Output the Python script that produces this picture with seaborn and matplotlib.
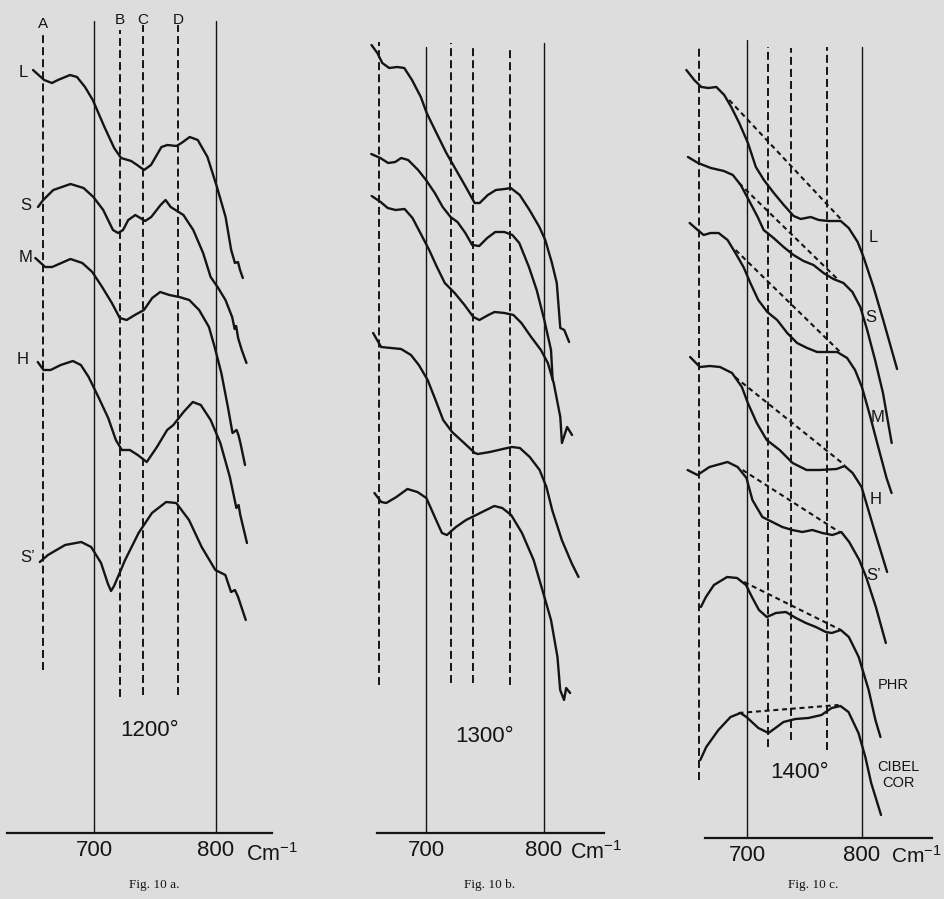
import numpy as np
import pandas as pd
import matplotlib
matplotlib.use("Agg")
import matplotlib.pyplot as plt
import seaborn as sns

PAPER = "#dddddd"
INK = "#141414"

# Fig. 10 a (1200 deg) : wavenumber (cm-1) / relative height of each trace
A_L_WN = [649.8, 659.0, 665.4, 670.3, 680.3, 686.0, 692.6, 699.0, 708.6, 716.6, 722.3, 730.6, 735.5, 741.2, 746.9,
          755.5, 760.4, 767.9, 772.0, 778.8, 785.4, 793.4, 801.2, 808.3, 812.9, 816.0, 818.5, 820.2, 822.5]
A_L_H = [763, 753, 750, 753, 758, 756, 746, 733, 706, 685, 675, 672, 668, 663, 668,
         686, 688, 687, 690, 696, 693, 676, 646, 616, 583, 570, 571, 563, 555]
A_S_WN = [653.9, 658.2, 666.5, 680.7, 691.4, 699.5, 707.6, 715.6, 719.8, 723.9, 728.2, 734.0, 738.1, 742.1, 747.1,
          754.8, 758.9, 763.1, 773.6, 781.7, 789.8, 796.0, 801.7, 808.2, 813.7, 815.8, 817.0, 818.6, 821.6, 825.5]
A_S_H = [626, 633, 643, 649, 645, 636, 623, 603, 600, 603, 613, 618, 615, 612, 616,
         628, 633, 626, 618, 603, 580, 556, 546, 533, 516, 504, 507, 495, 483, 470]
A_M_WN = [651.7, 659.8, 665.6, 680.6, 690.4, 698.6, 706.7, 714.7, 721.2, 726.9, 733.6, 741.1, 747.9, 754.5, 762.0,
          770.2, 778.4, 786.5, 794.6, 799.3, 804.8, 810.2, 814.0, 817.3, 818.9, 820.5, 824.3]
A_M_H = [575, 566, 566, 574, 570, 561, 546, 530, 515, 513, 518, 523, 535, 541, 538,
         536, 533, 523, 506, 486, 460, 426, 400, 403, 398, 390, 368]
A_H_WN = [653.7, 658.5, 664.3, 672.6, 682.6, 689.2, 695.6, 703.6, 711.7, 718.0, 722.9, 729.5, 736.0, 743.4, 751.8,
          760.2, 765.3, 773.7, 781.3, 787.9, 796.0, 804.0, 811.8, 817.2, 819.0, 820.4, 825.9]
A_H_H = [471, 463, 463, 468, 472, 468, 456, 436, 415, 393, 383, 383, 378, 371, 386,
         403, 408, 421, 431, 428, 413, 390, 356, 325, 328, 318, 290]
A_SP_WN = [655.4, 662.1, 676.2, 689.5, 697.7, 705.8, 711.5, 714.0, 716.5, 725.6, 736.7, 747.7, 759.4, 767.7, 778.2,
           788.6, 799.9, 808.1, 812.8, 816.0, 818.6, 824.9]
A_SP_H = [271, 278, 288, 291, 286, 270, 249, 242, 247, 273, 300, 320, 331, 330, 313,
          286, 263, 258, 241, 243, 236, 213]
A_NAMES = ["L", "S", "M", "H", "S\u2019"]
A_LABEL_WN = [641.6, 644.0, 643.4, 641.3, 645.5]
A_LABEL_H = [761, 628, 576, 473, 276]
A_GUIDE_NAMES = ["A", "B", "C", "D"]
A_GUIDE_WN = [658, 721, 740, 769]
A_GUIDE_TOP = [801, 803, 808, 808]
A_GUIDE_BOTTOM = [163, 136, 138, 138]
A_SOLID_WN = [700, 800]
A_SOLID_TOP = [812, 812]

# Fig. 10 b (1300 deg)
B_C1_WN = [653.2, 658.2, 662.4, 668.3, 675.1, 681.1, 687.7, 695.2, 700.2, 708.5, 716.9, 725.2, 733.5, 741.0,
           745.3, 752.2, 759.1, 766.7, 771.8, 779.4, 787.7, 796.1, 801.1, 806.8, 810.9, 813.9, 817.3, 821.4]
B_C1_H = [788, 780, 770, 765, 766, 765, 753, 736, 720, 700, 680, 663, 646, 630,
          630, 638, 643, 644, 645, 638, 623, 606, 593, 570, 550, 505, 503, 491]
B_C2_WN = [653.0, 660.7, 667.4, 673.4, 678.5, 684.4, 692.9, 699.6, 707.1, 713.8, 720.5, 726.4, 733.1, 738.9,
           744.9, 751.7, 758.6, 766.3, 773.1, 779.0, 787.2, 793.8, 800.3, 806.0, 807.4]
B_C2_H = [679, 675, 670, 671, 675, 673, 663, 653, 640, 626, 616, 611, 600, 588,
          587, 595, 601, 601, 598, 590, 566, 543, 513, 483, 453]
B_C3_WN = [653.4, 661.0, 667.0, 673.7, 681.4, 688.1, 694.8, 702.3, 708.9, 715.6, 724.0, 732.4, 739.9, 745.0,
           752.7, 757.9, 766.4, 774.0, 780.8, 789.1, 797.4, 803.3, 808.3, 813.9, 815.3, 819.7, 823.9]
B_C3_H = [637, 631, 625, 623, 624, 615, 600, 583, 566, 550, 540, 528, 516, 513,
          518, 521, 520, 518, 510, 496, 483, 470, 450, 416, 390, 406, 398]
B_C4_WN = [654.6, 661.4, 669.9, 678.4, 686.8, 693.5, 701.0, 707.7, 714.2, 721.8, 731.1, 741.2, 743.7, 754.0,
           765.0, 772.7, 779.5, 787.9, 796.3, 802.1, 807.0, 815.2, 823.5, 829.4]
B_C4_H = [500, 486, 485, 484, 478, 468, 453, 433, 413, 401, 391, 380, 379, 381,
          384, 386, 385, 376, 363, 346, 323, 293, 270, 256]
B_C5_WN = [655.7, 661.5, 665.8, 674.4, 683.8, 692.3, 699.9, 708.2, 713.2, 717.4, 725.1, 733.7, 742.3, 750.8,
           757.7, 764.5, 772.1, 781.3, 791.2, 799.4, 806.0, 811.5, 813.8, 817.1, 818.9, 822.3]
B_C5_H = [340, 331, 330, 336, 344, 341, 335, 313, 300, 298, 306, 313, 318, 323,
          327, 325, 318, 300, 273, 240, 213, 176, 143, 133, 145, 140]
B_GUIDE_WN = [660, 721, 740, 771]
B_GUIDE_TOP = [791, 790, 786, 786]
B_GUIDE_BOTTOM = [148, 150, 150, 148]
B_SOLID_WN = [700, 800]
B_SOLID_TOP = [786, 790]

# Fig. 10 c (1400 deg)
C_L_WN = [646.6, 653.5, 659.7, 665.8, 672.8, 679.7, 685.8, 692.8, 700.4, 707.3, 714.3, 723.0, 731.7, 740.3,
          746.5, 755.2, 762.2, 770.9, 781.4, 788.4, 796.2, 801.3, 810.0, 818.5, 830.6]
C_L_H = [768, 758, 751, 750, 751, 743, 731, 715, 695, 671, 658, 645, 633, 622,
         619, 621, 618, 617, 617, 610, 596, 581, 551, 518, 469]
C_S_WN = [648.0, 656.8, 668.0, 679.4, 687.2, 694.1, 701.1, 708.9, 714.1, 722.8, 731.5, 740.2, 748.9, 757.6,
          766.4, 775.0, 783.8, 791.6, 798.5, 804.5, 811.4, 818.3, 825.9]
C_S_H = [681, 675, 670, 667, 663, 653, 638, 621, 608, 600, 591, 583, 577, 573,
         565, 559, 555, 546, 531, 508, 478, 445, 395]
C_M_WN = [649.5, 656.5, 661.7, 667.8, 674.8, 682.6, 689.5, 696.5, 702.5, 709.4, 717.3, 725.9, 734.7, 743.3,
          752.1, 760.8, 769.5, 778.3, 787.0, 793.9, 799.9, 806.8, 813.7, 821.4, 825.8]
C_M_H = [615, 608, 603, 605, 605, 598, 585, 571, 555, 538, 526, 518, 505, 495,
         490, 486, 486, 486, 480, 468, 451, 423, 393, 360, 345]
C_H_WN = [649.9, 658.5, 667.2, 676.0, 686.5, 695.1, 700.3, 708.1, 716.8, 728.1, 739.4, 751.6, 763.0, 777.8,
          784.8, 791.8, 799.6, 802.2, 810.7, 821.9]
C_H_H = [481, 471, 472, 471, 465, 451, 435, 415, 398, 388, 375, 368, 368, 369,
         372, 365, 351, 341, 308, 266]
C_SP_WN = [647.7, 656.3, 666.8, 682.6, 691.4, 699.1, 704.3, 713.0, 721.7, 730.4, 739.1, 747.9, 756.6, 765.3,
           774.1, 781.9, 788.8, 797.6, 803.6, 812.1, 820.8]
C_SP_H = [368, 363, 371, 376, 371, 360, 338, 321, 316, 311, 308, 306, 308, 305,
          303, 306, 296, 278, 261, 231, 195]
C_PHR_WN = [659.3, 663.7, 670.7, 682.2, 690.9, 698.7, 703.9, 710.0, 716.9, 724.8, 733.5, 742.3, 751.0, 759.7,
            768.4, 773.6, 781.5, 788.5, 797.1, 805.8, 811.7, 816.1]
C_PHR_H = [231, 241, 253, 261, 260, 253, 241, 228, 221, 225, 226, 220, 215, 211,
           206, 205, 208, 201, 181, 148, 118, 101]
C_COR_WN = [658.8, 664.0, 674.6, 685.2, 693.9, 699.1, 709.5, 718.3, 724.4, 731.4, 741.8, 753.2, 764.6, 773.4,
            781.2, 788.2, 796.9, 802.9, 808.0, 816.6]
C_COR_H = [78, 91, 108, 121, 125, 121, 110, 105, 110, 116, 119, 120, 123, 130,
           132, 126, 105, 81, 55, 23]
C_NAMES = ["L", "S", "M", "H", "S\u2019", "PHR", "CIBEL\nCOR"]
C_LABEL_WN = [810.0, 807.4, 813.5, 811.8, 810.0, 827.5, 831.9]
C_LABEL_H = [600, 520, 421, 338, 262, 153, 63]
# baselines drawn between the two shoulders of each trace
C_TAN_WN0 = [684.0, 692.5, 689.6, 689.1, 695.7, 697.0, 692.1]
C_TAN_H0 = [738, 655, 588, 461, 368, 256, 125]
C_TAN_WN1 = [783.1, 778.5, 780.9, 784.8, 780.2, 781.5, 779.5]
C_TAN_H1 = [617, 559, 486, 373, 306, 208, 133]
C_GUIDE_WN = [658, 718, 738, 769]
C_GUIDE_TOP = [793, 791, 790, 791]
C_GUIDE_BOTTOM = [58, 91, 98, 88]
C_SOLID_WN = [700, 800]
C_SOLID_TOP = [798, 791]


def curves_frame(curves):
    parts = [pd.DataFrame({"wn": wn, "h": h, "curve": name}) for name, wn, h in curves]
    return pd.concat(parts, ignore_index=True)


def draw_panel(ax, curves, guide_wn, guide_top, guide_bottom, solid_wn, solid_top, xlim, ymax):
    df = curves_frame(curves)
    sns.lineplot(data=df, x="wn", y="h", units="curve", estimator=None, sort=False,
                 color=INK, lw=1.7, ax=ax, legend=False)
    for wn, top in zip(solid_wn, solid_top):
        ax.plot([wn, wn], [0, top], color=INK, lw=1.0)
    for wn, top, bot in zip(guide_wn, guide_top, guide_bottom):
        ax.plot([wn, wn], [bot, top], color=INK, lw=1.4, ls=(0, (4.1, 2.1)))
    for line in ax.lines:
        line.set_clip_on(False)

    ax.set_xlim(*xlim)
    ax.set_ylim(0, ymax)
    ax.set_xticks([700, 800])
    ax.set_yticks([])
    ax.set_xlabel("")
    ax.set_ylabel("")
    for side in ["left", "right", "top"]:
        ax.spines[side].set_visible(False)
    ax.spines["bottom"].set_linewidth(1.6)
    ax.spines["bottom"].set_color(INK)
    ax.tick_params(axis="x", length=0, pad=5, labelsize=16, labelcolor=INK)
    ax.patch.set_alpha(0)


sns.set_theme(style="white")
plt.rcParams["font.family"] = ["Liberation Sans Narrow", "Liberation Sans", "DejaVu Sans"]
plt.rcParams["mathtext.default"] = "regular"

fig = plt.figure(figsize=(9.44, 8.99), dpi=100, facecolor=PAPER)
ax_a = fig.add_axes([7 / 944, 66 / 899, 265 / 944, 833 / 899])
ax_b = fig.add_axes([377 / 944, 66 / 899, 227 / 944, 833 / 899])
ax_c = fig.add_axes([705 / 944, 61 / 899, 227 / 944, 838 / 899])

# panel a
draw_panel(ax_a, [("L", A_L_WN, A_L_H), ("S", A_S_WN, A_S_H), ("M", A_M_WN, A_M_H),
                  ("H", A_H_WN, A_H_H), ("Sp", A_SP_WN, A_SP_H)],
           A_GUIDE_WN, A_GUIDE_TOP, A_GUIDE_BOTTOM, A_SOLID_WN, A_SOLID_TOP, (628.4, 846.5), 833)
for name, wn, h in zip(A_NAMES, A_LABEL_WN, A_LABEL_H):
    ax_a.text(wn, h, name, ha="center", va="center", fontsize=12, color=INK,
              family=["Liberation Sans", "DejaVu Sans"])
for name, wn in zip(A_GUIDE_NAMES, A_GUIDE_WN):
    ax_a.text(wn, 813 if name != "A" else 809, name, ha="center", va="center", fontsize=11,
              color=INK, family=["Liberation Sans", "DejaVu Sans"])
ax_a.text(746, 103, "1200°", ha="center", va="center", fontsize=16, color=INK)
ax_a.text(846.5, -22, "Cm$^{-1}$", ha="center", va="center", fontsize=15.5, color=INK, clip_on=False)

# panel b
draw_panel(ax_b, [("1", B_C1_WN, B_C1_H), ("2", B_C2_WN, B_C2_H), ("3", B_C3_WN, B_C3_H),
                  ("4", B_C4_WN, B_C4_H), ("5", B_C5_WN, B_C5_H)],
           B_GUIDE_WN, B_GUIDE_TOP, B_GUIDE_BOTTOM, B_SOLID_WN, B_SOLID_TOP, (657.9, 851.1), 833)
ax_b.text(749.8, 97, "1300°", ha="center", va="center", fontsize=16, color=INK)
ax_b.text(844.5, -20, "Cm$^{-1}$", ha="center", va="center", fontsize=15.5, color=INK, clip_on=False)

# panel c
draw_panel(ax_c, [("L", C_L_WN, C_L_H), ("S", C_S_WN, C_S_H), ("M", C_M_WN, C_M_H),
                  ("H", C_H_WN, C_H_H), ("Sp", C_SP_WN, C_SP_H), ("PHR", C_PHR_WN, C_PHR_H),
                  ("COR", C_COR_WN, C_COR_H)],
           C_GUIDE_WN, C_GUIDE_TOP, C_GUIDE_BOTTOM, C_SOLID_WN, C_SOLID_TOP, (662.9, 861.1), 838)
for x0, y0, x1, y1 in zip(C_TAN_WN0, C_TAN_H0, C_TAN_WN1, C_TAN_H1):
    ax_c.plot([x0, x1], [y0, y1], color=INK, lw=1.5, ls=(0, (2.4, 1.8)), clip_on=False)
for name, wn, h in zip(C_NAMES, C_LABEL_WN, C_LABEL_H):
    size = 12 if len(name) < 3 else 10.5
    ax_c.text(wn, h, name, ha="center", va="center", fontsize=size, color=INK,
              family=["Liberation Sans", "DejaVu Sans"], linespacing=1.2)
ax_c.text(745.9, 65, "1400°", ha="center", va="center", fontsize=16, color=INK)
ax_c.text(847.8, -18, "Cm$^{-1}$", ha="center", va="center", fontsize=15, color=INK, clip_on=False)

# captions below each panel
for x, cap in zip([154, 490, 813], ["Fig. 10 a.", "Fig. 10 b.", "Fig. 10 c."]):
    fig.text(x / 944, 1 - 885 / 899, cap, ha="center", va="center", fontsize=9.5, color=INK,
             family=["Liberation Serif", "DejaVu Serif"])

fig.savefig("out.png", dpi=100, facecolor=PAPER)
